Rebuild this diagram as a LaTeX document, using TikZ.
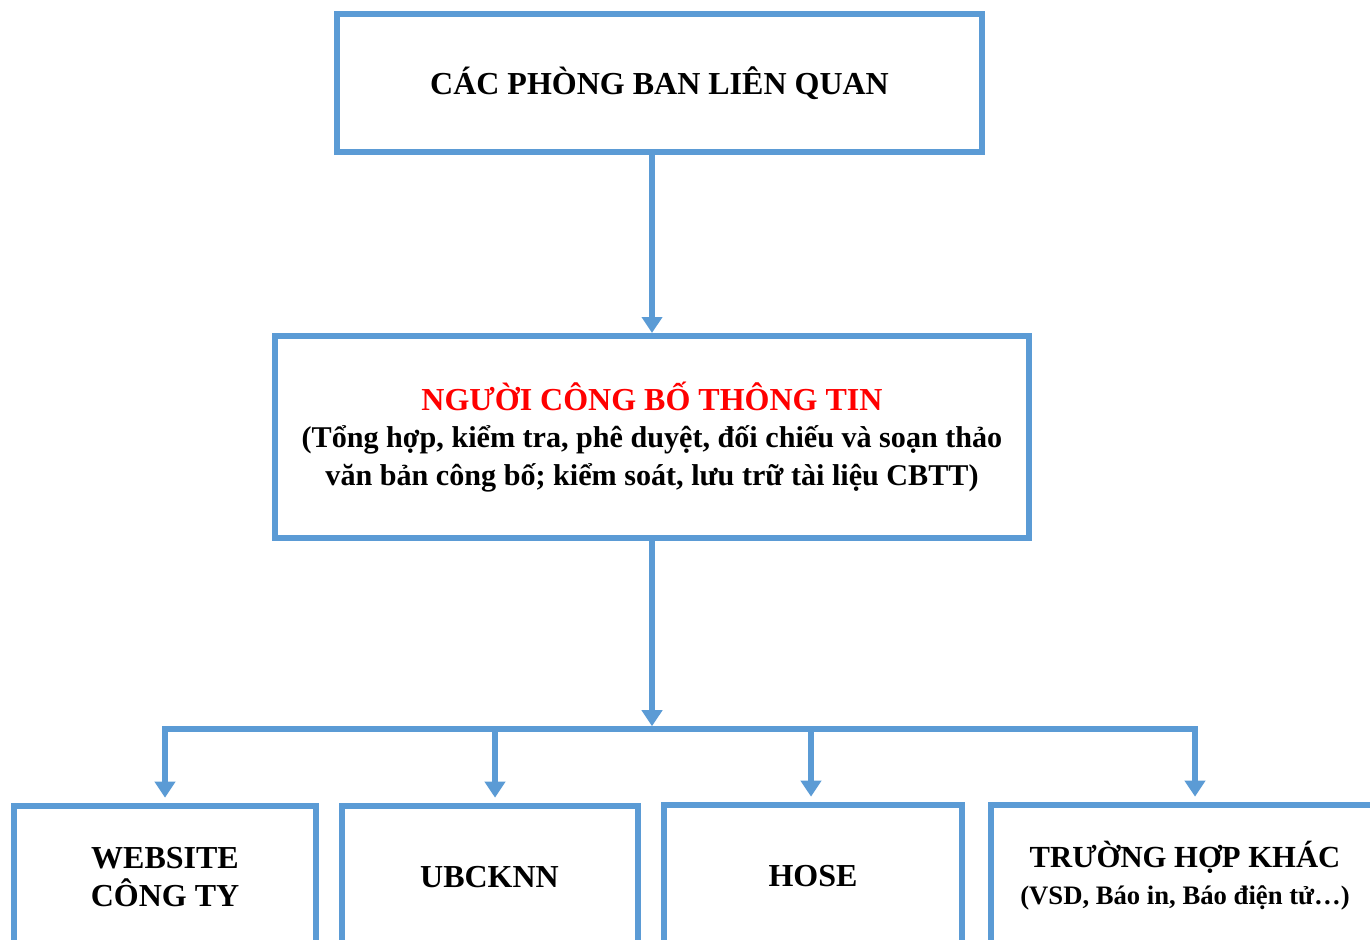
\documentclass[tikz,border=0pt]{standalone}
\usepackage{fontspec}
\setmainfont{Liberation Serif}
\usetikzlibrary{arrows.meta,positioning}
\definecolor{frameblue}{HTML}{5B9BD5}
\definecolor{headred}{HTML}{FF0000}
\tikzset{
  box/.style={draw=frameblue, line width=4.5pt, fill=white, align=center, inner sep=0pt,
    font=\bfseries\fontsize{24}{28}\selectfont},
  wire/.style={draw=frameblue, line width=4.5pt},
  arr/.style={wire, -{Triangle[width=15pt,length=12pt]}},
  sub/.style={font=\bfseries\fontsize{22.6}{28}\selectfont}
}

\begin{document}
\begin{tikzpicture}[x=0.75pt,y=-0.75pt]
  \useasboundingbox (0,0) rectangle (1370,939);
  \clip (0,0) rectangle (1370,939);
  % boxes
  \node[box, minimum width=483.75pt, minimum height=103.5pt] (dept) at (659.5,83) {CÁC PHÒNG BAN LIÊN QUAN};
  \node[box, sub, minimum width=566pt, minimum height=151.5pt] (pub) at (652,437)
    {{\fontsize{24}{28}\selectfont\color{headred}NGƯỜI CÔNG BỐ THÔNG TIN}\\
     (Tổng hợp, kiểm tra, phê duyệt, đối chiếu và soạn thảo\\
     văn bản công bố; kiểm soát, lưu trữ tài liệu CBTT)};
  \node[box, minimum width=227pt, minimum height=106.5pt] (web) at (165,877) {WEBSITE\\CÔNG TY};
  \node[box, minimum width=222pt, minimum height=106.5pt] (ubck) at (489.5,877) {UBCKNN};
  \node[box, minimum width=223pt, minimum height=106.5pt] (hose) at (813,876) {HOSE};
  \node[box, minimum width=291pt, minimum height=106.5pt] (other) at (1185,876)
    {{\fontsize{23}{28}\selectfont TRƯỜNG HỢP KHÁC}\\{\fontsize{20}{28}\selectfont (VSD, Báo in, Báo điện tử…)}};
  % connectors
  \coordinate (hub) at (652,728.5);
  \coordinate (j1) at (165,728.5);
  \coordinate (j2) at (495,728.5);
  \coordinate (j3) at (811,728.5);
  \coordinate (j4) at (1195,728.5);
  \draw[arr] (dept.south -| pub.north) -- (pub.north);
  \draw[arr, shorten >=1.7pt] (pub.south) -- (hub);
  \draw[wire, line cap=rect] (j1) -- (j4);
  \draw[arr, shorten >=4pt] (j1) -- (j1 |- web.north);
  \draw[arr, shorten >=4pt] (j2) -- (j2 |- ubck.north);
  \draw[arr, shorten >=4pt] (j3) -- (j3 |- hose.north);
  \draw[arr, shorten >=4pt] (j4) -- (j4 |- other.north);
\end{tikzpicture}
\end{document}
